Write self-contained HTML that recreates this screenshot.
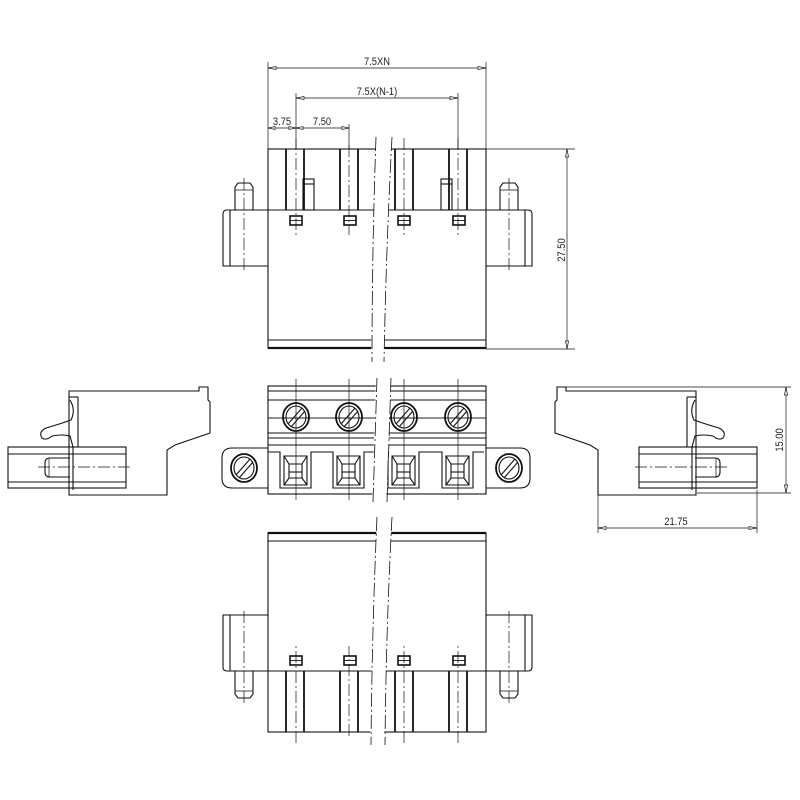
<!DOCTYPE html>
<html><head><style>html,body{margin:0;padding:0;background:#fff}svg{display:block}text{font-family:"Liberation Sans",sans-serif;font-size:11px;fill:#222}</style></head>
<body>
<svg width="800" height="800" viewBox="0 0 800 800" xmlns="http://www.w3.org/2000/svg" fill="none" stroke="#111" stroke-width="1.1">
<defs>
<g id="plan">
  <rect x="268" y="149" width="218" height="199"/>
  <line x1="268" y1="210" x2="486" y2="210"/>
  <line x1="268" y1="340" x2="486" y2="340"/>
  <line x1="268" y1="348" x2="486" y2="348" stroke-width="2.2"/>
  <g stroke-width="1.8">
    <line x1="286" y1="149" x2="286" y2="210"/><line x1="304" y1="149" x2="304" y2="210"/>
    <line x1="340" y1="149" x2="340" y2="210"/><line x1="358" y1="149" x2="358" y2="210"/>
    <line x1="395" y1="149" x2="395" y2="210"/><line x1="413" y1="149" x2="413" y2="210"/>
    <line x1="449" y1="149" x2="449" y2="210"/><line x1="467" y1="149" x2="467" y2="210"/>
  </g>
  <g stroke-width="1.6">
    <rect x="290" y="216" width="12" height="9"/><rect x="344" y="216" width="12" height="9"/>
    <rect x="398" y="216" width="12" height="9"/><rect x="453" y="216" width="12" height="9"/>
  </g>
  <g stroke-width="0.9">
    <line x1="290" y1="220.5" x2="302" y2="220.5"/><line x1="344" y1="220.5" x2="356" y2="220.5"/>
    <line x1="398" y1="220.5" x2="410" y2="220.5"/><line x1="453" y1="220.5" x2="465" y2="220.5"/>
  </g>
  <path d="M268 210 H227 Q223 210 223 214 V266 H268"/>
  <line x1="230" y1="210" x2="230" y2="266"/>
  <path d="M486 210 H528 Q532 210 532 214 V266 H486"/>
  <line x1="525" y1="210" x2="525" y2="266"/>
  <path d="M235 210 V187 L238 183 H250 L253 187 V210"/>
  <line x1="235" y1="190" x2="253" y2="190" stroke-width="0.8"/>
  <path d="M500 210 V187 L503 183 H515 L518 187 V210"/>
  <line x1="500" y1="190" x2="518" y2="190" stroke-width="0.8"/>
  <g stroke-width="0.7" stroke-dasharray="12,3,2,3">
    <line x1="296" y1="138" x2="296" y2="235"/><line x1="349" y1="145" x2="349" y2="235"/>
    <line x1="404" y1="138" x2="404" y2="235"/><line x1="458" y1="138" x2="458" y2="235"/>
    <line x1="244" y1="178" x2="244" y2="272"/><line x1="509" y1="178" x2="509" y2="272"/>
  </g>
</g>
<g id="side">
  <path d="M69 495 V391 H199 V387 H208 V400 L210 402 V433 L175 445 L167 450 V495 Z"/>
  <line x1="78" y1="397" x2="78" y2="447"/>
  <path d="M69 397 H78"/>
  <path d="M70 400 Q76 410 71 420 Q60 424 46 428 Q38 432 42 438 Q46 441 52 436 Q62 434 70 436 L73 447"/>
  <rect x="8" y="447" width="118" height="41"/>
  <line x1="8" y1="454" x2="126" y2="454"/>
  <line x1="8" y1="482" x2="126" y2="482"/>
  <line x1="73" y1="447" x2="73" y2="490"/>
  <path d="M70 458 H50 Q45 458 45 463 V472 Q45 477 50 477 H70"/>
  <line x1="49" y1="458" x2="49" y2="477" stroke-width="0.7"/>
  <line x1="38" y1="467" x2="130" y2="467" stroke-width="0.7" stroke-dasharray="12,3,2,3"/>
</g>
</defs>

<!-- top view -->
<use href="#plan"/>
<rect x="303" y="179" width="11" height="31"/><line x1="303" y1="184" x2="314" y2="184"/>
<rect x="441" y="179" width="11" height="31"/><line x1="441" y1="184" x2="452" y2="184"/>
<!-- bottom view -->
<use href="#plan" transform="translate(0,881) scale(1,-1)"/>

<!-- front view -->
<rect x="268" y="386" width="218" height="108"/>
<line x1="268" y1="391" x2="486" y2="391"/>
<line x1="268" y1="400" x2="486" y2="400"/>
<line x1="268" y1="418" x2="486" y2="418" stroke-width="0.7"/>
<line x1="268" y1="433" x2="486" y2="433"/>
<line x1="268" y1="438" x2="486" y2="438"/>
<line x1="268" y1="445" x2="486" y2="445"/>
<path d="M268 448 H232 Q222 448 222 458 V478 Q222 488 232 488 H268"/>
<path d="M486 448 H520 Q530 448 530 458 V478 Q530 488 520 488 H486"/>
<g id="cav">
  <path d="M268 452 H280 V488 H311 V452 H322"/>
  <path d="M284 456 H307 V485 H284 Z"/>
  <path d="M284 456 L289 464 H302 L307 456 M284 485 L289 478 H302 L307 485 M289 464 V478 M302 464 V478"/>
  <line x1="289" y1="472" x2="302" y2="472"/>
</g>
<use href="#cav" transform="translate(53,0)"/>
<use href="#cav" transform="translate(108,0)"/>
<use href="#cav" transform="translate(162,0)"/>
<g id="scr">
  <ellipse cx="296" cy="417" rx="13" ry="14" stroke-width="1.8"/>
  <ellipse cx="296" cy="417" rx="10" ry="11"/>
  <path d="M288 424 L302 408 M291 427 L305 411" />
</g>
<use href="#scr" transform="translate(53,0)"/>
<use href="#scr" transform="translate(108,0)"/>
<use href="#scr" transform="translate(162,0)"/>
<use href="#scr" transform="translate(-52,51)"/>
<use href="#scr" transform="translate(213,51)"/>
<g stroke-width="0.7">
  <line x1="296" y1="379" x2="296" y2="500"/><line x1="349" y1="379" x2="349" y2="500"/>
  <line x1="404" y1="379" x2="404" y2="500"/><line x1="458" y1="379" x2="458" y2="500"/>
  <line x1="268" y1="418" x2="486" y2="418"/>
</g>

<!-- break gaps -->
<g fill="#fff" stroke="none">
  <path d="M376 135 Q372 250 371 365 L384 365 Q386 250 392 135 Z"/>
  <path d="M376 378 L372 505 L386 505 L391 378 Z"/>
  <path d="M377 515 Q372 630 370 748 L384 748 Q386 630 392 515 Z"/>
</g>
<g stroke-width="0.8" stroke-dasharray="14,3,2,3">
  <path d="M376 137 Q372 250 372 362"/><path d="M392 137 Q386 250 384 362"/>
  <path d="M377 378 L373 502"/><path d="M391 378 L387 502"/>
  <path d="M377 517 Q372 630 371 745"/><path d="M392 517 Q386 630 385 745"/>
</g>

<!-- side views -->
<use href="#side"/>
<use href="#side" transform="translate(765,0) scale(-1,1)"/>

<!-- dimensions -->
<g stroke-width="0.7">
  <line x1="268" y1="62" x2="268" y2="149"/><line x1="486" y1="62" x2="486" y2="149"/>
  <line x1="268" y1="68" x2="486" y2="68"/>
  <line x1="296" y1="93" x2="296" y2="149"/><line x1="458" y1="93" x2="458" y2="149"/>
  <line x1="296" y1="98" x2="458" y2="98"/>
  <line x1="268" y1="128" x2="349" y2="128"/><line x1="349" y1="124" x2="349" y2="149"/>
  <line x1="486" y1="149" x2="575" y2="149"/><line x1="486" y1="349" x2="575" y2="349"/>
  <line x1="567" y1="149" x2="567" y2="349"/>
  <line x1="557" y1="387" x2="791" y2="387"/><line x1="697" y1="493" x2="791" y2="493"/>
  <line x1="786" y1="387" x2="786" y2="493"/>
  <line x1="598" y1="495" x2="598" y2="533"/><line x1="757" y1="490" x2="757" y2="533"/>
  <line x1="598" y1="528" x2="757" y2="528"/>
</g>
<g fill="#fff" stroke-width="0.7">
  <path d="M268 68 l8 -1.5 v3 z M486 68 l-8 -1.5 v3 z"/>
  <path d="M296 98 l8 -1.5 v3 z M458 98 l-8 -1.5 v3 z"/>
  <path d="M268 128 l7 -1.5 v3 z M296 128 l-7 -1.5 v3 z M296 128 l7 -1.5 v3 z M349 128 l-7 -1.5 v3 z"/>
  <path d="M567 149 l-1.5 8 h3 z M567 349 l-1.5 -8 h3 z"/>
  <path d="M786 387 l-1.5 8 h3 z M786 493 l-1.5 -8 h3 z"/>
  <path d="M598 528 l8 -1.5 v3 z M757 528 l-8 -1.5 v3 z"/>
</g>
<g stroke="none">
  <text x="377" y="65" text-anchor="middle" transform="translate(377,0) scale(0.85,1) translate(-377,0)">7.5XN</text>
  <text x="377" y="95" text-anchor="middle" transform="translate(377,0) scale(0.85,1) translate(-377,0)">7.5X(N-1)</text>
  <text x="282" y="125" text-anchor="middle" transform="translate(282,0) scale(0.85,1) translate(-282,0)">3.75</text>
  <text x="322" y="125" text-anchor="middle" transform="translate(322,0) scale(0.85,1) translate(-322,0)">7.50</text>
  <text x="0" y="0" text-anchor="middle" transform="translate(565,250) rotate(-90) scale(0.85,1)">27.50</text>
  <text x="0" y="0" text-anchor="middle" transform="translate(783,440) rotate(-90) scale(0.85,1)">15.00</text>
  <text x="676" y="525" text-anchor="middle" transform="translate(676,0) scale(0.85,1) translate(-676,0)">21.75</text>
</g>
</svg>
</body></html>
